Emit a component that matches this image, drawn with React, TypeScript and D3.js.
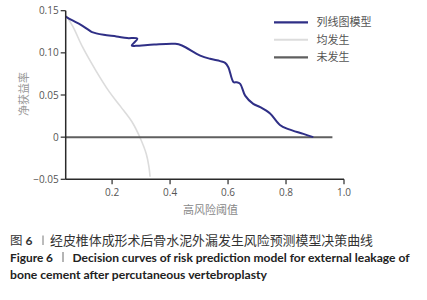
import React from "react";
import * as d3 from "d3";

const modelX = [0.040, 0.06, 0.091, 0.12, 0.131, 0.171, 0.215, 0.252, 0.287, 0.268, 0.282, 0.345, 0.418, 0.441, 0.504, 0.538, 0.573, 0.590, 0.601, 0.619, 0.630, 0.642, 0.659, 0.687, 0.711, 0.745, 0.779, 0.808, 0.860, 0.894];
const modelY = [0.143, 0.139, 0.1336, 0.127, 0.1246, 0.1214, 0.1195, 0.1175, 0.1168, 0.1086, 0.1083, 0.1099, 0.1107, 0.1087, 0.0968, 0.0929, 0.0902, 0.0881, 0.0830, 0.0652, 0.0652, 0.0632, 0.0493, 0.0395, 0.0356, 0.0280, 0.0145, 0.0095, 0.0039, 0.0];

const allX = [0.042, 0.065, 0.098, 0.144, 0.190, 0.229, 0.269, 0.297, 0.318, 0.327, 0.331];
const allY = [0.144, 0.131, 0.107, 0.079, 0.054, 0.0365, 0.018, -0.001, -0.020, -0.035, -0.047];

const noneX = [0.04, 0.96];
const noneY = [0, 0];

const yTicks = [0.15, 0.10, 0.05, 0, -0.05];
const yTickLabels = ["0.15", "0.10", "0.05", "0", "\u22120.05"];
const xTicks = [0.2, 0.4, 0.6, 0.8, 1.0];
const xTickLabels = ["0.2", "0.4", "0.6", "0.8", "1.0"];

const seriesNames = ["列线图模型", "均发生", "未发生"];
const seriesColors = ["#2f2f86", "#dcdcdc", "#5f5f5f"];
const seriesWidths = [2, 1.6, 2];

const yTitle = "净获益率";
const xTitle = "高风险阈值";
const captionCn = "经皮椎体成形术后骨水泥外漏发生风险预测模型决策曲线";
const captionEn1 = "Decision curves of risk prediction model for external leakage of";
const captionEn2 = "bone cement after percutaneous vertebroplasty";

export default function App() {
  const x = d3.scaleLinear().domain([0.04, 1.0]).range([65.7, 344]);
  const y = d3.scaleLinear().domain([-0.05, 0.15]).range([179.3, 10.7]);

  const line = d3
    .line<[number, number]>()
    .x((d) => x(d[0]))
    .y((d) => y(d[1]))
    .curve(d3.curveCatmullRom.alpha(0.5));

  const series = [
    modelX.map((v, i) => [v, modelY[i]] as [number, number]),
    allX.map((v, i) => [v, allY[i]] as [number, number]),
    noneX.map((v, i) => [v, noneY[i]] as [number, number]),
  ];

  const axisColor = "#2a2a2a";
  const tickFont = "'Open Sans', 'DejaVu Sans', sans-serif";
  const cjk = "'Noto Sans CJK SC', sans-serif";
  const enFont = "Lato, 'Open Sans', sans-serif";
  const x0 = x.range()[0];
  const y0 = y.range()[0];

  return (
    <svg
      width={427}
      height={300}
      style={{ position: "absolute", left: 0, top: 0, background: "#fff" }}
    >
      <rect x={0} y={0} width={427} height={300} fill="#fff" />
      <path d={line(series[1]) || ""} fill="none" stroke={seriesColors[1]} strokeWidth={seriesWidths[1]} />
      <path d={line(series[2]) || ""} fill="none" stroke={seriesColors[2]} strokeWidth={seriesWidths[2]} />
      <path d={line(series[0]) || ""} fill="none" stroke={seriesColors[0]} strokeWidth={seriesWidths[0]} strokeLinejoin="round" />

      <line x1={x0} x2={x0} y1={y(0.15)} y2={y0} stroke={axisColor} strokeWidth={1.5} />
      <line x1={x0} x2={x(1.0)} y1={y0} y2={y0} stroke={axisColor} strokeWidth={1.5} />
      {yTicks.map((t, i) => (
        <g key={"y" + i}>
          <line x1={x0 - 5} x2={x0} y1={y(t)} y2={y(t)} stroke={axisColor} strokeWidth={1.2} />
          <text x={x0 - 7} y={y(t) + 3.5} textAnchor="end" fontSize={10} fill="#555" fontFamily={tickFont}>
            {yTickLabels[i]}
          </text>
        </g>
      ))}
      {xTicks.map((t, i) => (
        <g key={"x" + i}>
          <line x1={x(t)} x2={x(t)} y1={y0} y2={y0 + 5} stroke={axisColor} strokeWidth={1.2} />
          <text x={x(t)} y={y0 + 17} textAnchor="middle" fontSize={10} fill="#555" fontFamily={tickFont}>
            {xTickLabels[i]}
          </text>
        </g>
      ))}

      <text
        transform={`translate(27.5,94) rotate(-90)`}
        textAnchor="middle"
        fontSize={11}
        fill="#999"
        fontFamily={cjk}
      >
        {yTitle}
      </text>
      <text x={210.5} y={214} textAnchor="middle" fontSize={11} fill="#888" fontFamily={cjk}>
        {xTitle}
      </text>

      {seriesNames.map((n, i) => (
        <g key={"l" + i}>
          <line x1={274} x2={308} y1={22.3 + i * 17.5} y2={22.3 + i * 17.5} stroke={seriesColors[i]} strokeWidth={seriesWidths[i] + 0.3} />
          <text x={316.5} y={22.3 + i * 17.5 + 4} fontSize={11} fill="#555" fontFamily={cjk}>
            {n}
          </text>
        </g>
      ))}

      <text x={10} y={245} fontSize={12.5} fill="#333" fontFamily={cjk}>
        图
      </text>
      <text x={25.5} y={245} fontSize={12} fill="#333" fontWeight="bold" fontFamily={enFont}>
        6
      </text>
      <line x1={43} x2={43} y1={235.5} y2={245} stroke="#555" strokeWidth={0.8} />
      <text x={50} y={245} fontSize={12.9} fill="#333" fontFamily={cjk} textLength={323} lengthAdjust="spacingAndGlyphs">
        {captionCn}
      </text>
      <text x={10} y={261.5} fontSize={12} fill="#222" fontWeight="bold" fontFamily={enFont} textLength={43} lengthAdjust="spacingAndGlyphs">
        Figure 6
      </text>
      <line x1={63} x2={63} y1={252} y2={262} stroke="#444" strokeWidth={0.8} />
      <text x={72.5} y={261.5} fontSize={12} fill="#222" fontWeight="bold" fontFamily={enFont} textLength={337} lengthAdjust="spacingAndGlyphs">
        {captionEn1}
      </text>
      <text x={10} y={279} fontSize={12} fill="#222" fontWeight="bold" fontFamily={enFont} textLength={257} lengthAdjust="spacingAndGlyphs">
        {captionEn2}
      </text>
    </svg>
  );
}
